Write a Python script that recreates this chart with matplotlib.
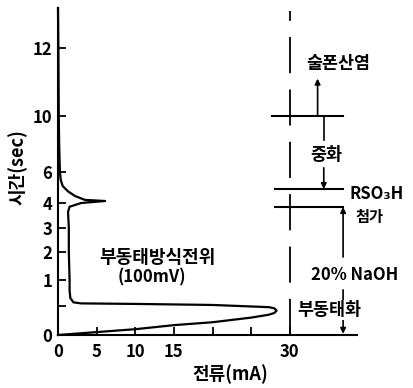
import numpy as np
import matplotlib
matplotlib.use("Agg")
import matplotlib.pyplot as plt

plt.rcParams['font.family'] = ['Noto Sans CJK KR', 'DejaVu Sans']
plt.rcParams['font.weight'] = 'bold'
plt.rcParams['axes.labelweight'] = 'bold'

# broken time axis: tick value -> position
sec_knots = [0, 0.5, 1, 2, 3, 4, 6, 10, 12, 13.2]
pos_knots = [0, 29, 55, 83, 107, 132, 163, 219, 287, 327]

# current (mA) / time (sec) of the recorded curve
curve_ma = [0, 5, 10, 15, 20, 25, 27.3, 28.0, 28.3, 28.0, 27.3, 20, 10, 3, 2, 1.6,
            1.5, 1.5, 1.4, 1.4, 1.3, 1.5, 3, 6.1, 3.5, 2.2, 1.3, 0.6, 0.35, 0.25,
            0.15, 0.1, 0.05, 0]
curve_sec = [0, 0.05, 0.1, 0.17, 0.22, 0.3, 0.35, 0.38, 0.42, 0.46, 0.48, 0.52, 0.54,
             0.55, 0.57, 0.65, 0.8, 1.0, 2.0, 3.0, 3.65, 3.85, 4.0, 4.13, 4.2, 4.45,
             4.75, 5.1, 5.5, 6.0, 8.0, 10.0, 12.0, 13.2]

yticks = [0, 0.5, 1, 2, 3, 4, 6, 10, 12]
ytick_labels = ['0', '', '1', '2', '3', '4', '6', '10', '12']
xticks = [0, 5, 10, 15, 20, 25, 30]
xtick_labels = ['0', '5', '10', '15', '', '', '30']

# event levels (sec) on the right-hand diagram
t_sulfonate = 10.0
t_rso3h = 4.9
t_naoh_top = 3.84


def fwd(y):
    return np.interp(y, sec_knots, pos_knots)


def inv(p):
    return np.interp(p, pos_knots, sec_knots)


fig = plt.figure(figsize=(4.13, 3.88), dpi=100)
ax = fig.add_axes([58 / 413, 53 / 388, 299 / 413, 327 / 388])
ax.set_yscale('function', functions=(fwd, inv))
ax.set_xlim(0, 38.7)
ax.set_ylim(0, 13.2)

ax.plot(curve_ma, curve_sec, color='black', lw=1.6, clip_on=False, solid_joinstyle='round')

# dashed 30 mA line
ax.plot([30, 30], [0, 13.1], color='black', lw=1.3, dashes=(20, 9), clip_on=False)

# horizontal event lines
ax.plot([27.7, 36.9], [t_sulfonate, t_sulfonate], color='black', lw=1.5)
ax.plot([28.1, 36.9], [t_rso3h, t_rso3h], color='black', lw=1.5)
ax.plot([28.1, 36.9], [t_naoh_top, t_naoh_top], color='black', lw=1.5)

arrow = dict(arrowstyle='-|>', lw=1.2, color='black', mutation_scale=8, shrinkA=0, shrinkB=0)
ax.annotate('', xy=(33.6, 11.1), xytext=(33.6, t_sulfonate), arrowprops=arrow)
ax.plot([34.4, 34.4], [t_sulfonate, 8.3], color='black', lw=1.2)
ax.annotate('', xy=(34.4, t_rso3h), xytext=(34.4, 6.3), arrowprops=arrow)
ax.annotate('', xy=(36.9, t_naoh_top), xytext=(36.9, 1.82), arrowprops=arrow)
ax.annotate('', xy=(36.9, 0.02), xytext=(36.9, 0.81), arrowprops=arrow)

ax.text(36.3, 11.53, '술폰산염', ha='center', va='center', fontsize=12.5)
ax.text(34.7, 7.2, '중화', ha='center', va='center', fontsize=12.5)
ax.text(37.7, 4.55, 'RSO₃H', ha='left', va='center', fontsize=12)
ax.text(38.5, 3.44, '첨가', ha='left', va='center', fontsize=11)
ax.text(38.4, 1.18, '20% NaOH', ha='center', va='center', fontsize=12)
ax.text(35.1, 0.43, '부동태화', ha='center', va='center', fontsize=12.5,
        bbox=dict(facecolor='white', edgecolor='none', pad=0.5))
ax.text(12.9, 1.82, '부동태방식전위', ha='center', va='center', fontsize=13)
ax.text(12.2, 1.08, '(100mV)', ha='center', va='center', fontsize=12)

ax.spines['top'].set_visible(False)
ax.spines['right'].set_visible(False)
ax.spines['left'].set_linewidth(1.5)
ax.spines['bottom'].set_linewidth(1.5)

ax.set_yticks(yticks)
ax.set_yticklabels(ytick_labels)
ax.set_xticks(xticks)
ax.set_xticklabels(xtick_labels)
ax.tick_params(axis='both', direction='in', length=6, width=1.3, labelsize=12)
ax.tick_params(axis='x', pad=6)
ax.tick_params(axis='y', pad=4)
ax.xaxis.get_major_ticks()[0].tick1line.set_visible(False)
ax.minorticks_off()

ax.set_xlabel('전류(mA)', fontsize=13)
ax.xaxis.set_label_coords((230 - 58) / 299, -(364 - 335) / 327)
ax.set_ylabel('시간(sec)', fontsize=13)
ax.yaxis.set_label_coords(-(58 - 28) / 299, (335 - 167) / 327)

fig.savefig('out.png', dpi=100)
